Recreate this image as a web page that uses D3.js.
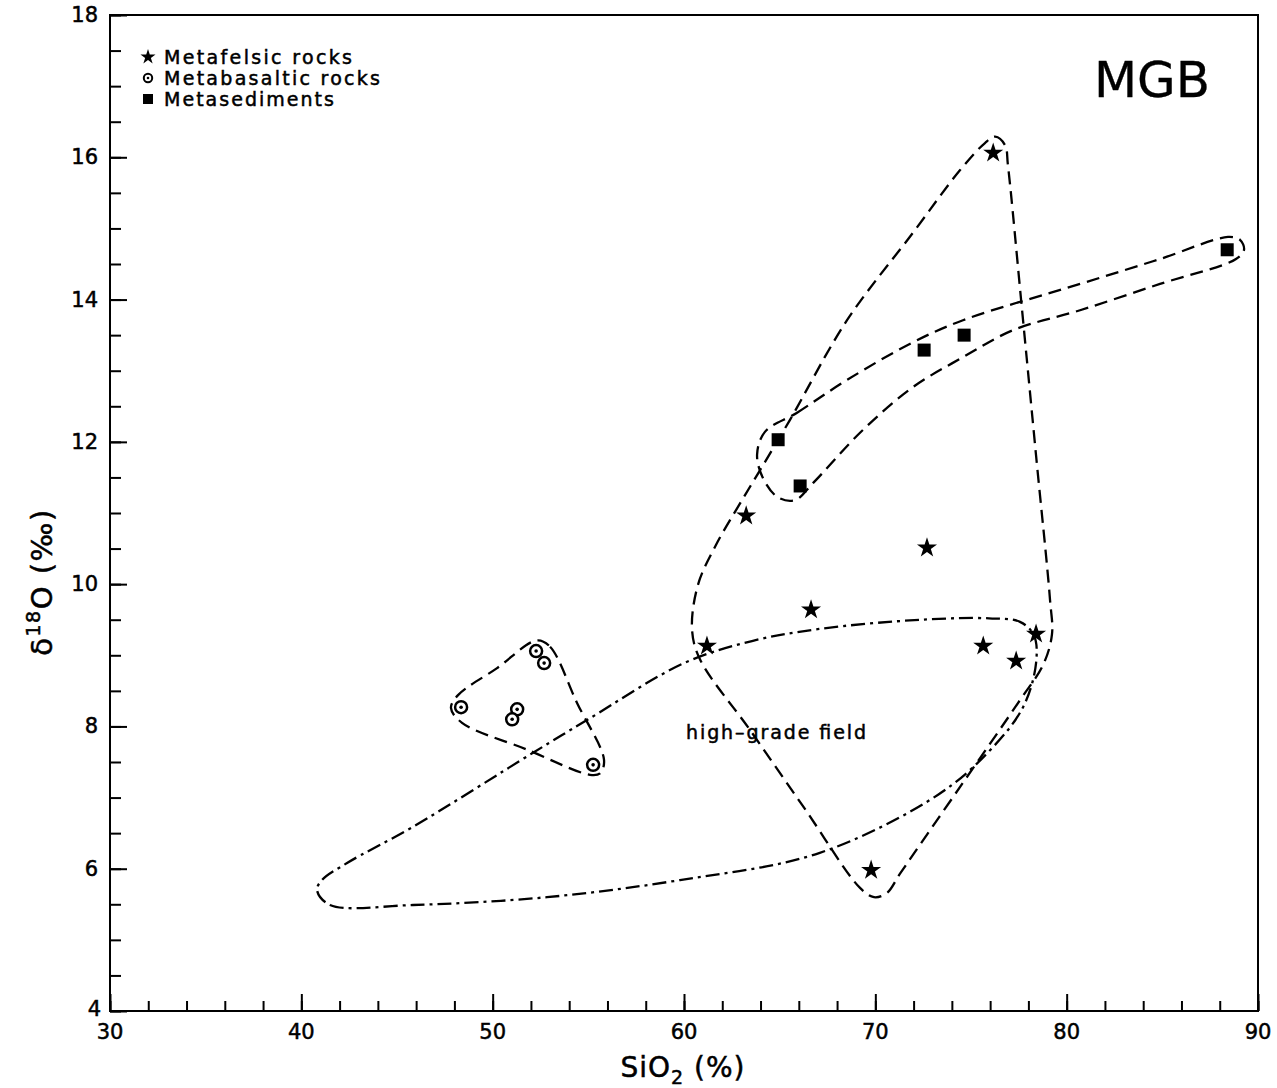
<!DOCTYPE html>
<html><head><meta charset="utf-8">
<script src="https://cdn.jsdelivr.net/npm/d3@7"></script>
<style>body{margin:0;background:#fff}svg{display:block}text{font-family:"DejaVu Sans","Liberation Sans",sans-serif;fill:#000;stroke:#000;stroke-width:0.5}</style>
</head><body>
<script>
// ---- data ----
const xTicksMajor = [30,40,50,60,70,80,90];
const yTicksMajor = [4,6,8,10,12,14,16,18];
const felsicX = [76.16,63.25,72.7,66.64,61.2,75.64,77.36,78.4,69.78];
const felsicY = [16.06,10.96,10.51,9.64,9.13,9.13,8.92,9.30,5.98];
const basaltX = [48.35,52.27,52.69,51.28,51.02,55.25];
const basaltY = [8.27,9.06,8.89,8.24,8.10,7.46];
const sedX = [64.92,66.07,72.55,74.64,88.39];
const sedY = [12.03,11.38,13.29,13.50,14.70];
// envelope outlines (x,y in data units)
const felsicFieldX = [75.73,76.26,76.78,76.93,77.67,78.40,79.13,79.23,78.76,77.56,74.43,71.29,70.61,69.93,69.20,66.32,63.45,60.84,60.42,60.73,61.67,63.03,63.97,65.54,68.52,71.97,74.43];
const felsicFieldY = [16.20,16.29,16.17,15.89,13.85,11.81,9.78,9.29,8.86,8.37,7.15,5.93,5.66,5.60,5.73,6.84,7.95,8.94,9.36,9.99,10.55,11.18,11.60,12.31,13.71,14.94,15.82];
const sedFieldX = [64.23,65.91,68.52,71.97,74.58,80.70,84.88,88.43,89.06,89.27,88.85,84.88,80.70,77.20,74.58,71.97,69.36,66.74,65.80,64.91,64.13,63.82];
const sedFieldY = [12.14,12.41,12.87,13.40,13.71,14.22,14.57,14.88,14.84,14.70,14.57,14.22,13.85,13.57,13.19,12.77,12.17,11.42,11.18,11.22,11.49,11.82];
const basaltFieldX = [52.32,53.0,54.41,55.82,55.61,55.09,51.74,48.40,47.82,48.19,50.23];
const basaltFieldY = [9.21,9.12,8.33,7.53,7.34,7.32,7.68,8.05,8.26,8.44,8.82];
const highGradeX = [40.82,41.50,45.84,52.84,59.79,67.06,73.28,75.94,77.72,78.40,78.29,77.56,75.94,72.39,67.06,63.55,60.0,54.93,52.11,45.84,42.39,41.08];
const highGradeY = [5.70,5.49,5.49,5.60,5.84,6.22,7.04,7.65,8.27,8.89,9.28,9.47,9.52,9.50,9.37,9.20,8.89,8.09,7.63,6.59,6.08,5.84];
const legendLabels = ["Metafelsic rocks","Metabasaltic rocks","Metasediments"];

// ---- drawing ----
const W = 1277, H = 1088;
const svg = d3.select("body").append("svg").attr("width", W).attr("height", H);
const x = d3.scaleLinear().domain([30,90]).range([110,1258]);
const y = d3.scaleLinear().domain([4,18]).range([1011,15]);

svg.append("rect").attr("x",110).attr("y",15).attr("width",1148).attr("height",996)
  .attr("fill","none").attr("stroke","#000").attr("stroke-width",2);

function styleAxis(g){ g.select(".domain").remove(); g.selectAll("line").attr("stroke","#000").attr("stroke-width",2); g.selectAll("text").remove(); }
svg.append("g").attr("transform","translate(0,1011)").call(d3.axisBottom(x).tickValues(d3.range(30,90.1,2)).tickSize(-10)).call(styleAxis);
svg.append("g").attr("transform","translate(0,1011)").call(d3.axisBottom(x).tickValues(xTicksMajor).tickSize(-17)).call(styleAxis);
svg.append("g").attr("transform","translate(110,0)").call(d3.axisLeft(y).tickValues(d3.range(4,18.01,0.5)).tickSize(-11)).call(styleAxis);
svg.append("g").attr("transform","translate(110,0)").call(d3.axisLeft(y).tickValues(yTicksMajor).tickSize(-17)).call(styleAxis);

svg.selectAll("text.xl").data(xTicksMajor).enter().append("text")
  .attr("x", d=>x(d)).attr("y",1039).attr("text-anchor","middle").attr("font-size",21).text(d=>d);
svg.selectAll("text.yl").data(yTicksMajor).enter().append("text")
  .attr("x", d=> d===4 ? 101 : 98).attr("y", d=>y(d)+ (d===4 ? 5 : 7)).attr("text-anchor","end").attr("font-size",21).text(d=>d);

// axis titles
const xt = svg.append("text").attr("x",683).attr("y",1077).attr("text-anchor","middle").attr("font-size",28).attr("letter-spacing",1);
xt.append("tspan").text("SiO");
xt.append("tspan").attr("font-size",19).attr("dy",7).text("2");
xt.append("tspan").attr("dy",-7).text(" (%)");
const yt = svg.append("text").attr("transform","translate(52,582) rotate(-90)").attr("text-anchor","middle").attr("font-size",29).attr("letter-spacing",1.5);
yt.append("tspan").text("δ");
yt.append("tspan").attr("font-size",19).attr("dy",-12).text("18");
yt.append("tspan").attr("dy",12).text("O (‰)");

// envelopes
const line = d3.line().x(d=>x(d[0])).y(d=>y(d[1])).curve(d3.curveCatmullRomClosed.alpha(0.5));
function env(xs, ys, dash){
  svg.append("path").datum(xs.map((v,i)=>[v, ys[i]])).attr("d", line)
    .attr("fill","none").attr("stroke","#000").attr("stroke-width",2.3).attr("stroke-dasharray",dash);
}
env(felsicFieldX, felsicFieldY, "13,7");
env(sedFieldX, sedFieldY, "13,7");
env(basaltFieldX, basaltFieldY, "13,7");
env(highGradeX, highGradeY, "14,5,3,5");

svg.append("text").attr("x",686).attr("y",739).attr("font-size",19)
  .attr("textLength",180).attr("lengthAdjust","spacing").text("high\u2013grade field");

// markers
const star = d3.symbol().type(d3.symbolStar).size(125);
svg.selectAll("path.star").data(felsicX.map((v,i)=>[v,felsicY[i]])).enter().append("path")
  .attr("d", star).attr("transform", d=>`translate(${x(d[0])},${y(d[1])})`).attr("fill","#000");
const bg = svg.selectAll("g.bas").data(basaltX.map((v,i)=>[v,basaltY[i]])).enter().append("g")
  .attr("transform", d=>`translate(${x(d[0])},${y(d[1])})`);
bg.append("circle").attr("r",6).attr("fill","#fff").attr("stroke","#000").attr("stroke-width",2.5);
bg.append("circle").attr("r",1.8).attr("fill","#000");
svg.selectAll("rect.sed").data(sedX.map((v,i)=>[v,sedY[i]])).enter().append("rect")
  .attr("x", d=>x(d[0])-6.5).attr("y", d=>y(d[1])-6.5).attr("width",13).attr("height",13).attr("fill","#000");

// legend
const lg = svg.append("g");
const ly = [57,78,99];
const lw = [188,216,170];
lg.append("path").attr("d", d3.symbol().type(d3.symbolStar).size(70)).attr("transform",`translate(148,${ly[0]})`);
lg.append("circle").attr("cx",148).attr("cy",ly[1]).attr("r",4.2).attr("fill","none").attr("stroke","#000").attr("stroke-width",2);
lg.append("circle").attr("cx",148).attr("cy",ly[1]).attr("r",1.3);
lg.append("rect").attr("x",143).attr("y",ly[2]-5).attr("width",10).attr("height",10);
lg.selectAll("text").data(legendLabels).enter().append("text")
  .attr("x",164).attr("y",(d,i)=>ly[i]+7).attr("font-size",19)
  .attr("textLength",(d,i)=>lw[i]).attr("lengthAdjust","spacing").text(d=>d);

svg.append("text").attr("x",1152).attr("y",97).attr("text-anchor","middle").attr("font-size",50).style("stroke-width",0.3).text("MGB");
</script>
</body></html>
